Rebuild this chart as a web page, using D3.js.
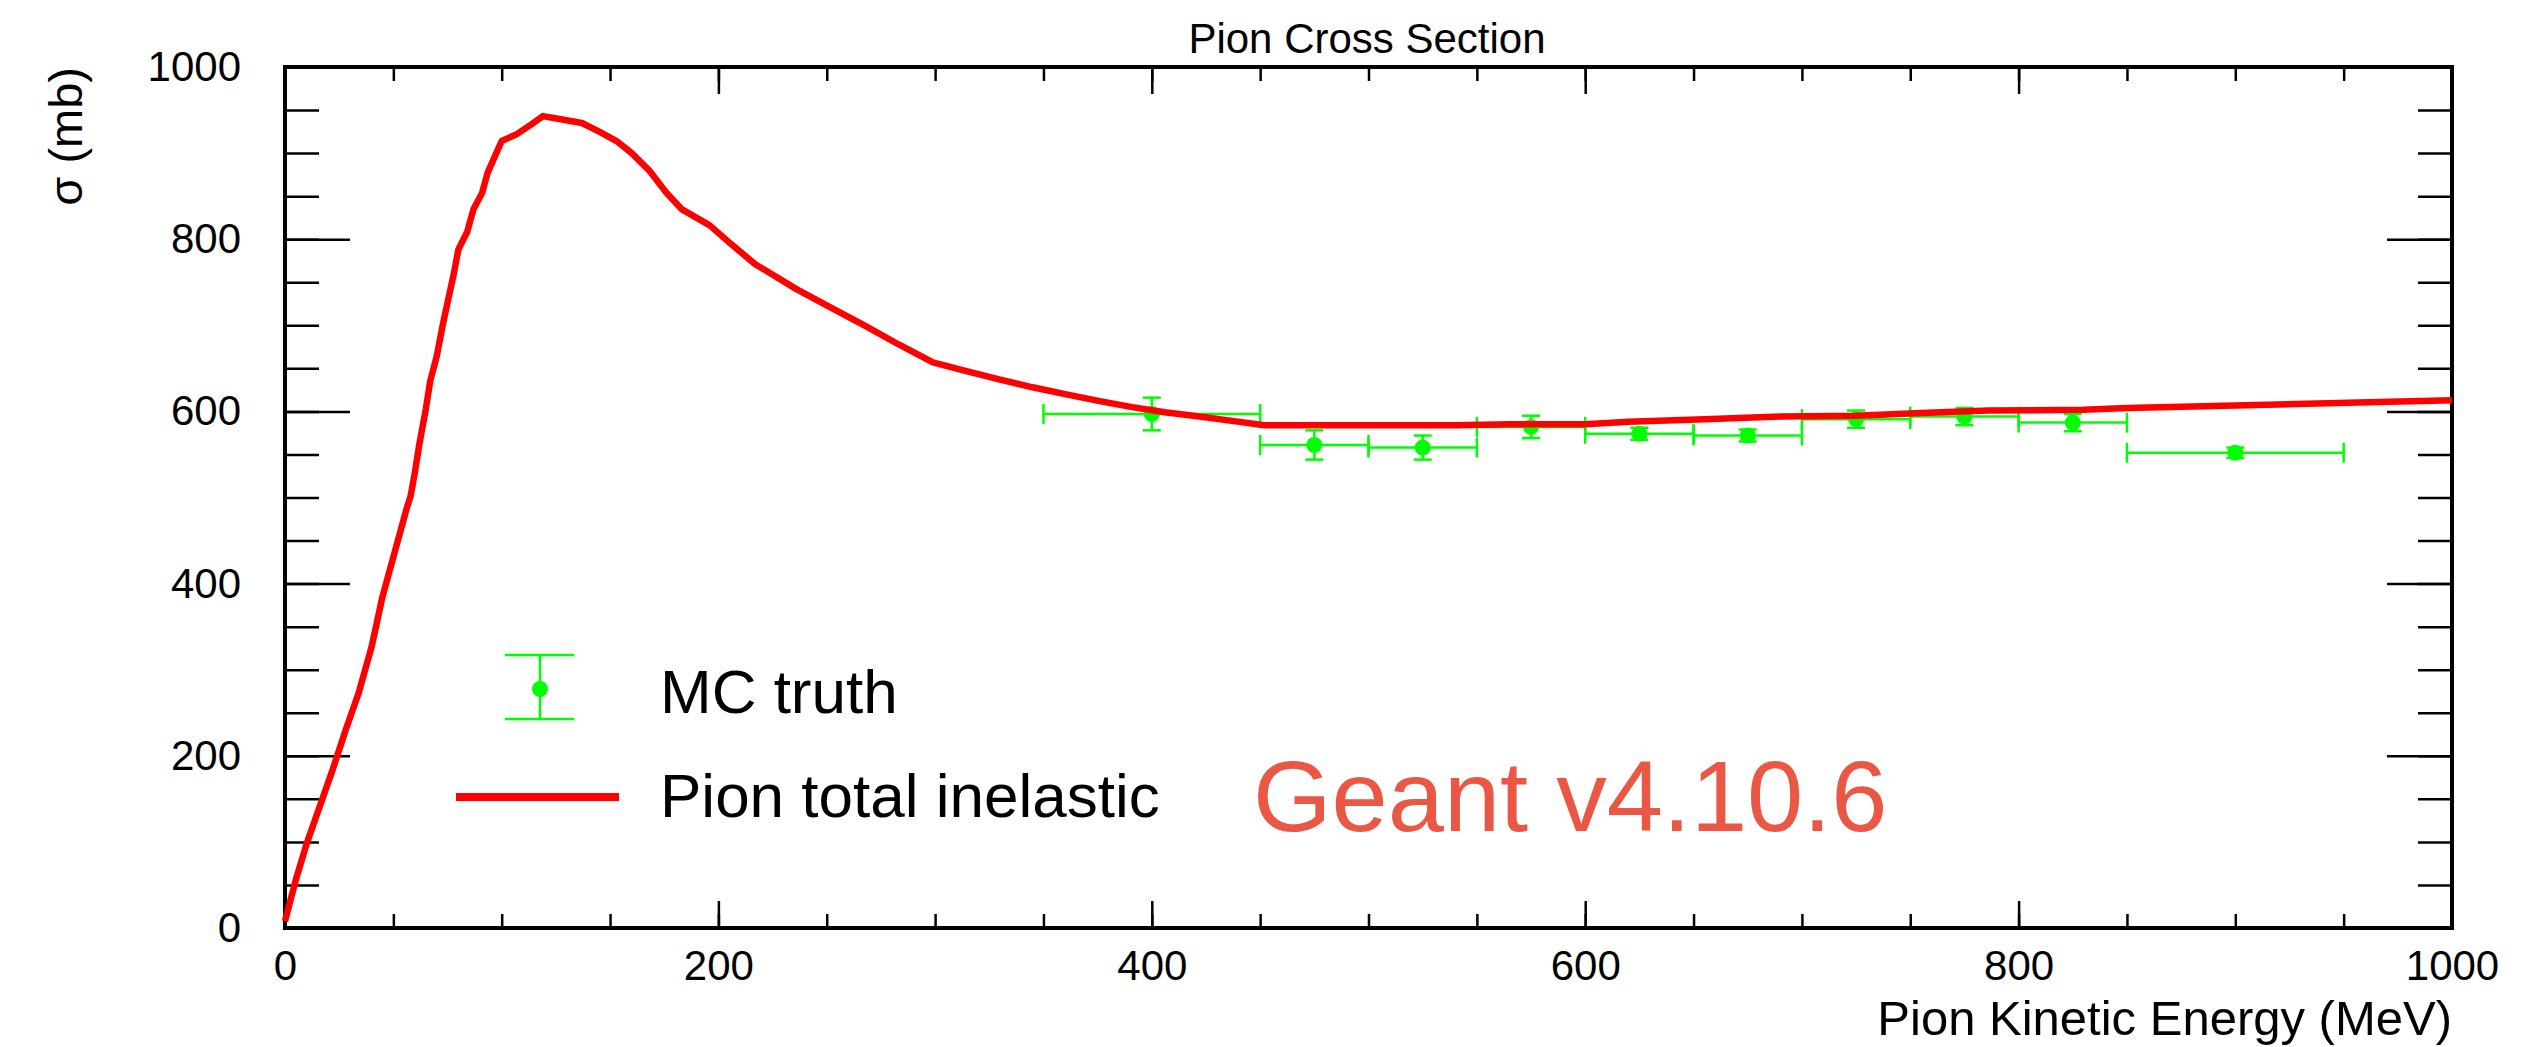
<!DOCTYPE html>
<html>
<head>
<meta charset="utf-8">
<script src="https://cdn.jsdelivr.net/npm/d3@7"></script>
<style>
  html, body { margin: 0; padding: 0; background: #ffffff; }
  svg { display: block; }
  text { font-family: "Liberation Sans", Arial, Helvetica, sans-serif; }
</style>
</head>
<body>
<script>
// ---------------- data ----------------
const chartTitle = "Pion Cross Section";
const xAxisTitle = "Pion Kinetic Energy (MeV)";
const yAxisTitle = "σ (mb)";
const xMajorTicks = [0, 200, 400, 600, 800, 1000];
const yMajorTicks = [0, 200, 400, 600, 800, 1000];
const xMinorTicks = d3.range(0, 1001, 50);
const yMinorTicks = d3.range(0, 1001, 50);

// Pion total inelastic (Geant4) curve
const curveEnergy = [0, 5, 10, 16, 22, 28, 34, 40, 45, 51, 56, 58, 60, 62, 65, 67, 70, 73, 76, 78, 80,
  84, 87, 91, 93.5, 97, 100, 107, 114, 119, 128, 137, 145, 153, 160, 168, 176, 183, 196, 206, 217,
  236, 253, 268, 283, 299, 314, 330, 345, 360, 376, 391, 406, 422, 437, 452, 470, 500, 540, 565,
  600, 620, 655, 690, 725, 755, 786, 830, 850, 905, 952, 1000];
const curveSigma = [8, 56, 98, 141, 184, 230, 273, 327, 385, 440, 486, 502, 530, 562, 603, 635, 664, 703, 738, 761, 788,
  808, 835, 854, 877, 897, 914, 922, 934, 943, 939, 935, 925, 914, 900, 880, 854, 835, 816, 794, 771,
  742, 719, 699, 678, 657, 647, 637, 628, 620, 612, 605, 599, 594, 589, 584, 584, 584, 584, 585,
  585, 588, 591, 594, 595, 598, 601, 602, 604, 607, 610, 613];

// MC truth points
const mcEnergy = [400, 475, 525, 575, 625, 675, 725, 775, 825, 900];
const mcEnergyErr = [50, 25, 25, 25, 25, 25, 25, 25, 25, 50];
const mcSigma = [597, 561, 558, 582, 574, 572, 591, 594, 587, 552];
const mcSigmaErr = [19, 17, 14, 13, 7, 7, 10, 10, 10, 6];

const legendLabels = ["MC truth", "Pion total inelastic"];
const annotation = "Geant v4.10.6";

// ---------------- drawing ----------------
const W = 2535, H = 1047;
const pL = 285, pR = 2452, pT = 67, pB = 928;
const green = "#00ff00", red = "#ff0000";

const svg = d3.select("body").append("svg").attr("width", W).attr("height", H);
svg.append("rect").attr("width", W).attr("height", H).attr("fill", "#fff");

const x = d3.scaleLinear().domain([0, 1000]).range([pL, pR]);
const y = d3.scaleLinear().domain([0, 1000]).range([pB, pT]);

function styleAxis(g, labels) {
  g.select(".domain").remove();
  g.selectAll(".tick line").attr("stroke", "#000").attr("stroke-width", 2.5);
  g.selectAll(".tick text").attr("fill", "#000")
    .attr("font-family", '"Liberation Sans", Arial, Helvetica, sans-serif')
    .attr("font-size", 42);
  if (!labels) g.selectAll(".tick text").remove();
}

// minor ticks
svg.append("g").attr("transform", `translate(0,${pB})`)
  .call(d3.axisBottom(x).tickValues(xMinorTicks).tickSize(-14).tickFormat(""))
  .call(g => styleAxis(g, false));
svg.append("g").attr("transform", `translate(0,${pT})`)
  .call(d3.axisTop(x).tickValues(xMinorTicks).tickSize(-14).tickFormat(""))
  .call(g => styleAxis(g, false));
svg.append("g").attr("transform", `translate(${pL},0)`)
  .call(d3.axisLeft(y).tickValues(yMinorTicks).tickSize(-34).tickFormat(""))
  .call(g => styleAxis(g, false));
svg.append("g").attr("transform", `translate(${pR},0)`)
  .call(d3.axisRight(y).tickValues(yMinorTicks).tickSize(-34).tickFormat(""))
  .call(g => styleAxis(g, false));

// major ticks
svg.append("g").attr("transform", `translate(0,${pB})`)
  .call(d3.axisBottom(x).tickValues(xMajorTicks).tickSize(-27).tickPadding(22).tickFormat(d3.format("d")))
  .call(g => styleAxis(g, true));
svg.append("g").attr("transform", `translate(0,${pT})`)
  .call(d3.axisTop(x).tickValues(xMajorTicks).tickSize(-27).tickFormat(""))
  .call(g => styleAxis(g, false));
svg.append("g").attr("transform", `translate(${pL},0)`)
  .call(d3.axisLeft(y).tickValues(yMajorTicks).tickSize(-65).tickPadding(44).tickFormat(d3.format("d")))
  .call(g => styleAxis(g, true));
svg.append("g").attr("transform", `translate(${pR},0)`)
  .call(d3.axisRight(y).tickValues(yMajorTicks).tickSize(-65).tickFormat(""))
  .call(g => styleAxis(g, false));

// frame
svg.append("rect")
  .attr("x", pL).attr("y", pT)
  .attr("width", pR - pL).attr("height", pB - pT)
  .attr("fill", "none").attr("stroke", "#000").attr("stroke-width", 4);

// MC truth error bars
const mc = mcEnergy.map((e, i) => ({ e, ex: mcEnergyErr[i], s: mcSigma[i], es: mcSigmaErr[i] }));
const mcG = svg.append("g").attr("stroke", green).attr("stroke-width", 2.5);
mc.forEach(d => {
  const cx = x(d.e), cy = y(d.s);
  const x0 = x(d.e - d.ex), x1 = x(d.e + d.ex);
  const y0 = y(d.s - d.es), y1 = y(d.s + d.es);
  mcG.append("line").attr("x1", x0).attr("x2", x1).attr("y1", cy).attr("y2", cy);
  mcG.append("line").attr("x1", x0).attr("x2", x0).attr("y1", cy - 10).attr("y2", cy + 10);
  mcG.append("line").attr("x1", x1).attr("x2", x1).attr("y1", cy - 10).attr("y2", cy + 10);
  mcG.append("line").attr("x1", cx).attr("x2", cx).attr("y1", y0).attr("y2", y1);
  mcG.append("line").attr("x1", cx - 9).attr("x2", cx + 9).attr("y1", y0).attr("y2", y0);
  mcG.append("line").attr("x1", cx - 9).attr("x2", cx + 9).attr("y1", y1).attr("y2", y1);
});
svg.append("g").selectAll("circle").data(mc).join("circle")
  .attr("cx", d => x(d.e)).attr("cy", d => y(d.s)).attr("r", 8)
  .attr("fill", green);

// red curve
const curve = curveEnergy.map((e, i) => [e, curveSigma[i]]);
svg.append("path")
  .datum(curve)
  .attr("d", d3.line().x(d => x(d[0])).y(d => y(d[1])))
  .attr("fill", "none").attr("stroke", red).attr("stroke-width", 6.5)
  .attr("stroke-linejoin", "round");

// title
svg.append("text").attr("x", 1367).attr("y", 53)
  .attr("text-anchor", "middle").attr("font-size", 42).attr("fill", "#000")
  .text(chartTitle);

// axis titles
svg.append("text").attr("x", pR).attr("y", 1035)
  .attr("text-anchor", "end").attr("font-size", 49).attr("fill", "#000")
  .text(xAxisTitle);
svg.append("text")
  .attr("transform", `translate(82,${pT}) rotate(-90)`)
  .attr("text-anchor", "end").attr("font-size", 47).attr("fill", "#000")
  .text(yAxisTitle);

// legend
const lg = svg.append("g");
lg.append("line").attr("x1", 540).attr("x2", 540).attr("y1", 655).attr("y2", 719)
  .attr("stroke", green).attr("stroke-width", 2.5);
lg.append("line").attr("x1", 505).attr("x2", 574).attr("y1", 655).attr("y2", 655)
  .attr("stroke", green).attr("stroke-width", 2.5);
lg.append("line").attr("x1", 505).attr("x2", 574).attr("y1", 719).attr("y2", 719)
  .attr("stroke", green).attr("stroke-width", 2.5);
lg.append("circle").attr("cx", 540).attr("cy", 689).attr("r", 8).attr("fill", green);
lg.append("text").attr("x", 660).attr("y", 713).attr("font-size", 62).attr("fill", "#000")
  .text(legendLabels[0]);
lg.append("line").attr("x1", 456).attr("x2", 619).attr("y1", 797).attr("y2", 797)
  .attr("stroke", red).attr("stroke-width", 8);
lg.append("text").attr("x", 660).attr("y", 817).attr("font-size", 62).attr("fill", "#000")
  .text(legendLabels[1]);

// annotation
svg.append("text").attr("x", 1253).attr("y", 831)
  .attr("font-size", 101).attr("fill", "#ea5745")
  .text(annotation);
</script>
</body>
</html>
